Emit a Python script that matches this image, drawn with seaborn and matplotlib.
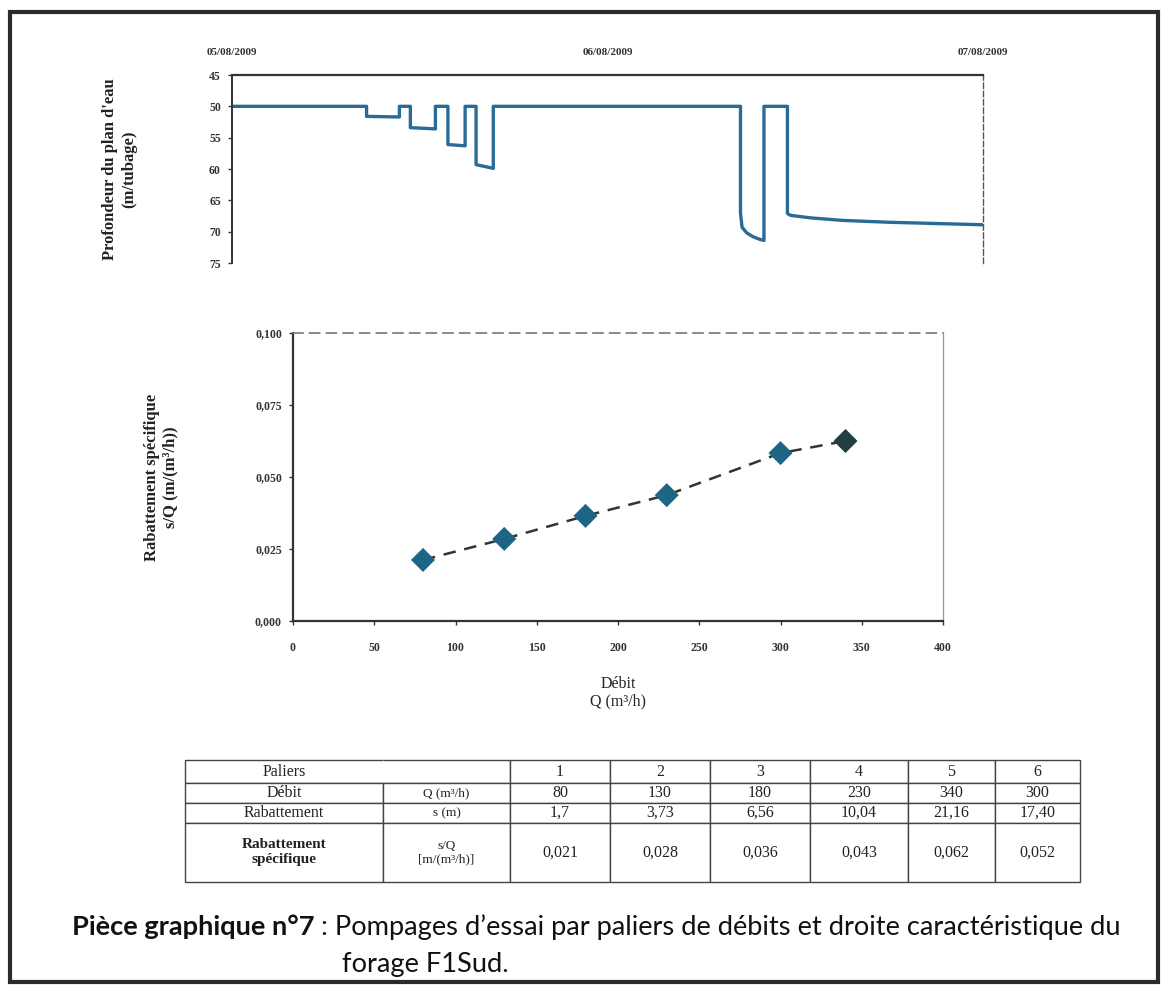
import numpy as np
import pandas as pd
import matplotlib
matplotlib.use("Agg")
import matplotlib.pyplot as plt
import matplotlib.dates as mdates
from matplotlib.ticker import FuncFormatter, MultipleLocator
from matplotlib.patches import Rectangle
import seaborn as sns

# ------------------------------------------------------------
# Data
# ------------------------------------------------------------
# water depth record (hours since 05/08/2009 00:00, depth in m/tubage)
hours = [0, 8.6, 8.6, 10.7, 10.7, 11.4, 11.4, 13.0, 13.0, 13.8, 13.8, 14.9,
         14.9, 15.6, 15.6, 16.7, 16.7, 32.5, 32.5, 32.6, 32.9, 33.3, 33.7,
         34.0, 34.0, 35.5, 35.5, 35.7, 37.0, 39.0, 42.0, 45.0, 48.0]
depth = [50, 50, 51.6, 51.7, 50, 50, 53.4, 53.6, 50, 50, 56.1, 56.3,
         50, 50, 59.3, 59.9, 50, 50, 67.0, 69.3, 70.2, 70.8, 71.2,
         71.4, 50, 50, 67.1, 67.4, 67.8, 68.2, 68.5, 68.7, 68.9]
date_labels = ["05/08/2009", "06/08/2009", "07/08/2009"]

# specific drawdown vs discharge (chart points)
debit_pts = [80, 130, 180, 230, 300, 340]
rab_spec_pts = [0.0212, 0.0285, 0.0365, 0.0437, 0.0583, 0.0625]

# table
paliers = ["1", "2", "3", "4", "5", "6"]
debit_tab = ["80", "130", "180", "230", "340", "300"]
rabat_tab = ["1,7", "3,73", "6,56", "10,04", "21,16", "17,40"]
spec_tab = ["0,021", "0,028", "0,036", "0,043", "0,062", "0,052"]

W, H = 1163, 985
sns.set_style("ticks")
plt.rcParams["font.family"] = ["Liberation Serif", "DejaVu Serif"]

fig = plt.figure(figsize=(W / 100, H / 100), dpi=100)
fig.patch.set_facecolor("white")

# outer frame
fig.patches.append(Rectangle((10 / W, 3 / H), 1148 / W, 970 / H,
                             transform=fig.transFigure, fill=False,
                             edgecolor="#2b2b2b", linewidth=3))

# ============================================================
# 1. Water level record
# ============================================================
ax1 = fig.add_axes([232 / W, 1 - 263 / H, 751 / W, 188 / H])
times = pd.Timestamp("2009-08-05") + pd.to_timedelta(hours, unit="h")
df_ts = pd.DataFrame({"time": times, "depth": depth})
sns.lineplot(data=df_ts, x="time", y="depth", ax=ax1, sort=False,
             estimator=None, color="#2a6b96", linewidth=2.4)
ax1.set_xlim(pd.Timestamp("2009-08-05"), pd.Timestamp("2009-08-07"))
ax1.set_ylim(75, 45)
ax1.yaxis.set_major_locator(MultipleLocator(5))
ax1.xaxis.tick_top()
ax1.set_xticks(pd.to_datetime(["2009-08-05", "2009-08-06", "2009-08-07"]))
ax1.set_xticklabels(date_labels)
ax1.tick_params(axis="x", length=0, pad=13, labelsize=8, colors="#333333")
ax1.tick_params(axis="y", length=3, width=1, labelsize=8.5, colors="#333333", pad=5)
for lab in ax1.get_xticklabels() + ax1.get_yticklabels():
    lab.set_fontweight("bold")
ax1.spines["bottom"].set_visible(False)
ax1.spines["top"].set_linewidth(1.6)
ax1.spines["top"].set_color("#333333")
ax1.spines["left"].set_linewidth(1.4)
ax1.spines["left"].set_color("#333333")
ax1.spines["right"].set_linestyle((0, (4, 2)))
ax1.spines["right"].set_linewidth(1.0)
ax1.spines["right"].set_color("#555555")
ax1.set_xlabel("")
ax1.set_ylabel("Profondeur du plan d'eau\n(m/tubage)", fontsize=12,
               fontweight="bold", labelpad=52, color="#222222")

# ============================================================
# 2. Specific drawdown vs discharge
# ============================================================
ax2 = fig.add_axes([293 / W, 1 - 621 / H, 650 / W, 288 / H])
df_pts = pd.DataFrame({"Q": debit_pts, "sQ": rab_spec_pts})
sns.lineplot(data=df_pts, x="Q", y="sQ", ax=ax2, color="#333333",
             linewidth=1.8, linestyle=(0, (5, 3.5)))
marker_cols = ["#1d6585"] * 5 + ["#1f3f44"]
sns.scatterplot(data=df_pts, x="Q", y="sQ", ax=ax2, marker="D", s=150,
                hue=df_pts.index, palette=marker_cols, legend=False,
                edgecolor="none", zorder=3)
ax2.set_xlim(0, 400)
ax2.set_ylim(0, 0.1)
ax2.xaxis.set_major_locator(MultipleLocator(50))
ax2.yaxis.set_major_locator(MultipleLocator(0.025))
ax2.yaxis.set_major_formatter(FuncFormatter(lambda v, p: f"{v:.3f}".replace(".", ",")))
ax2.tick_params(axis="both", length=3, width=1, labelsize=8.5, colors="#333333")
ax2.tick_params(axis="x", pad=12)
ax2.tick_params(axis="y", pad=5)
for lab in ax2.get_xticklabels() + ax2.get_yticklabels():
    lab.set_fontweight("bold")
ax2.spines["left"].set_linewidth(1.6)
ax2.spines["left"].set_color("#333333")
ax2.spines["bottom"].set_linewidth(1.6)
ax2.spines["bottom"].set_color("#333333")
ax2.spines["top"].set_linestyle((0, (6, 4)))
ax2.spines["top"].set_color("#777777")
ax2.spines["top"].set_linewidth(1.2)
ax2.spines["right"].set_color("#999999")
ax2.spines["right"].set_linewidth(0.9)
ax2.set_xlabel("Débit\nQ (m³/h)", fontsize=11.5, color="#222222", labelpad=16,
               linespacing=1.1)
ax2.set_ylabel("Rabattement spécifique\ns/Q (m/(m³/h))", fontsize=12,
               fontweight="bold", color="#222222", labelpad=55)

# ============================================================
# 3. Table
# ============================================================
ax3 = fig.add_axes([185 / W, 1 - 882 / H, 895 / W, 122 / H])
ax3.axis("off")
cell_text = [
    ["Paliers", ""] + paliers,
    ["Débit", "Q (m³/h)"] + debit_tab,
    ["Rabattement", "s (m)"] + rabat_tab,
    ["Rabattement\nspécifique", "s/Q\n[m/(m³/h)]"] + spec_tab,
]
col_w = [198, 127, 100, 100, 100, 98, 87, 85]
row_h = [23, 20, 20, 59]
tab = ax3.table(cellText=cell_text, colWidths=[c / sum(col_w) for c in col_w],
                cellLoc="center", bbox=[0, 0, 1, 1])
tab.auto_set_font_size(False)
for (r, c), cell in tab.get_celld().items():
    cell.set_height(row_h[r] / sum(row_h))
    cell.set_edgecolor("#444444")
    cell.set_linewidth(1.0)
    cell.get_text().set_fontsize(11.5)
    cell.get_text().set_color("#222222")
    if r == 3 and c == 0:
        cell.get_text().set_fontweight("bold")
        cell.get_text().set_fontsize(11)
    if c == 1:
        cell.get_text().set_fontsize(9.5)
tab[0, 0].visible_edges = "BTL"
tab[0, 1].visible_edges = "BTR"

# ============================================================
# Caption
# ============================================================
cap_font = ["Lato", "DejaVu Sans"]
t1 = fig.text(72 / W, 1 - 935 / H, "Pièce graphique n°7", fontsize=19.6,
              fontweight="bold", family=cap_font, va="baseline", color="#111111")
fig.canvas.draw()
bb = t1.get_window_extent()
fig.text(bb.x1 / W, 1 - 935 / H,
         " : Pompages d’essai par paliers de débits et droite caractéristique du",
         fontsize=19.6, family=cap_font, va="baseline", color="#111111")
fig.text(342 / W, 1 - 972 / H, "forage F1Sud.", fontsize=19.6,
         family=cap_font, va="baseline", color="#111111")

fig.savefig("out.png", dpi=100)
